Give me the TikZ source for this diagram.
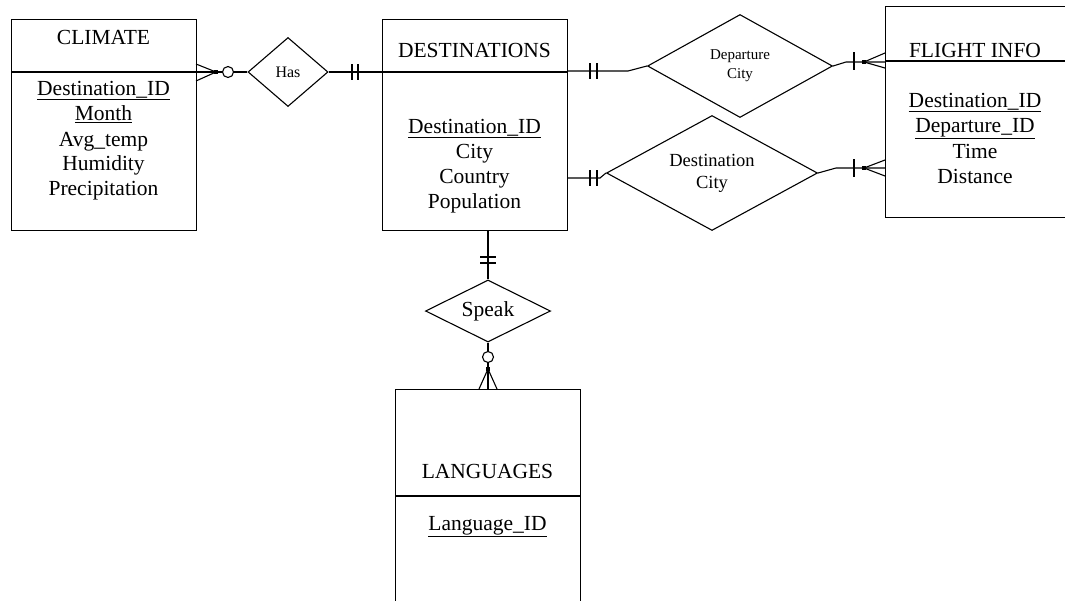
\documentclass[tikz,border=0pt]{standalone}
\usepackage{fontspec}
\setmainfont{Liberation Serif}
\usetikzlibrary{shapes.geometric,calc}
\begin{document}
\begin{tikzpicture}[x=1pt,y=-1pt,line width=1.1pt,
  entity/.style={draw,rectangle,anchor=north west,inner sep=0pt,minimum width=185pt},
  rel/.style={draw,diamond,inner sep=0pt,align=center},
  txt/.style={anchor=base,inner sep=0pt,font=\fontsize{21.5}{25}\selectfont},
  circ/.style={draw,circle,fill=white,minimum size=11pt,inner sep=0pt},
  dot/.style={fill,rectangle,minimum size=4pt,inner sep=0pt}]
\fill[white] (0,0) rectangle (1065,600);
\useasboundingbox (0,0) rectangle (1065,600);

% entities
\node[entity,minimum height=211pt] (climate) at (11,19) {};
\draw ($(climate.north west)+(0,53)$) -- ($(climate.north east)+(0,53)$);
\node[txt] (climT) at (103.5,44) {CLIMATE};
\node[txt] (clim1) at (103.5,95) {\underline{Destination\_ID}};
\node[txt] (clim2) at (103.5,120.5) {\underline{Month}};
\node[txt] (clim3) at (103.5,146) {Avg\_temp};
\node[txt] (clim4) at (103.5,170.5) {Humidity};
\node[txt] (clim5) at (103.5,195) {Precipitation};

\node[entity,minimum height=211pt] (dest) at (382,19) {};
\draw ($(dest.north west)+(0,53)$) -- ($(dest.north east)+(0,53)$);
\node[txt] (destT) at (474.5,57) {DESTINATIONS};
\node[txt] (dest1) at (474.5,133) {\underline{Destination\_ID}};
\node[txt] (dest2) at (474.5,158) {City};
\node[txt] (dest3) at (474.5,183) {Country};
\node[txt] (dest4) at (474.5,208) {Population};

\node[entity,minimum width=220pt,minimum height=211pt] (flight) at (885,6) {};
\draw ($(flight.north west)+(0,55)$) -- ($(flight.north east)+(0,55)$);
\node[txt] (flT) at (975,57) {FLIGHT INFO};
\node[txt] (fl1) at (975,107) {\underline{Destination\_ID}};
\node[txt] (fl2) at (975,132) {\underline{Departure\_ID}};
\node[txt] (fl3) at (975,158) {Time};
\node[txt] (fl4) at (975,183) {Distance};

\node[entity,minimum height=240pt] (lang) at (395,389) {};
\draw ($(lang.north west)+(0,107)$) -- ($(lang.north east)+(0,107)$);
\node[txt] (langT) at (487.5,478) {LANGUAGES};
\node[txt] (lang1) at (487.5,530) {\underline{Language\_ID}};

% relationships
\node[rel,aspect=1.16,minimum width=80pt,minimum height=69pt,font=\fontsize{16}{18}\selectfont] (has) at (288,72) {Has};
\node[rel,aspect=1.8,minimum width=185pt,minimum height=103pt,font=\fontsize{15}{19}\selectfont] (depc) at (740,66) {Departure\\City};
\node[rel,aspect=1.83,minimum width=211pt,minimum height=115pt,font=\fontsize{18.5}{22}\selectfont] (dstc) at (712,173) {Destination\\City};
\node[rel,aspect=2,minimum width=125pt,minimum height=62pt,font=\fontsize{21.5}{25}\selectfont] (speak) at (488,311) {Speak};

% Climate -- Has
\node[circ] (o1) at (228,72) {};
\coordinate (cf1) at (216,72);
\draw (has.west) -- (o1);
\draw (o1) -- (cf1);
\draw (cf1) -- (climate.north east |- cf1);
\draw (cf1) -- (196,64);
\draw (cf1) -- (196,81);
\node[dot] (d1) at (cf1) {};

% Has -- Destinations
\draw (has.east) -- (has.east -| dest.west);
\draw (352,64) -- (352,80);
\draw (358,64) -- (358,80);

% Destinations -- Departure City
\coordinate (k1) at (628,71);
\draw (dest.north east |- k1) -- (k1) -- (depc.west);
\draw (590,63) -- (590,79);
\draw (597,63) -- (597,79);

% Departure City -- Flight Info
\coordinate (k2) at (846,62);
\coordinate (cf3) at (864,62);
\draw (depc.east) -- (k2) -- (flight.north west |- k2);
\draw (854,52) -- (854,70);
\draw (cf3) -- (885,53);
\draw (cf3) -- (885,68);
\node[dot] (d3) at (cf3) {};

% Destinations -- Destination City
\coordinate (k3) at (600,178);
\draw (dest.north east |- k3) -- (k3) -- (dstc.west);
\draw (590,170) -- (590,186);
\draw (597,170) -- (597,186);

% Destination City -- Flight Info
\coordinate (k4) at (836,168);
\coordinate (cf4) at (864,168);
\draw (dstc.east) -- (k4) -- (flight.north west |- k4);
\draw (854,159) -- (854,177);
\draw (cf4) -- (885,160);
\draw (cf4) -- (885,176);
\node[dot] (d4) at (cf4) {};

% Destinations -- Speak
\draw (speak.north |- dest.south) -- (speak.north);
\draw (480,257) -- (496,257);
\draw (480,263) -- (496,263);

% Speak -- Languages
\node[circ] (o2) at (488,357) {};
\coordinate (cf2) at (488,369);
\draw (speak.south) -- (o2);
\draw (o2) -- (cf2);
\draw (cf2) -- (cf2 |- lang.north);
\draw (cf2) -- (479,389);
\draw (cf2) -- (497,389);
\node[dot] (d2) at (cf2) {};
\end{tikzpicture}
\end{document}
